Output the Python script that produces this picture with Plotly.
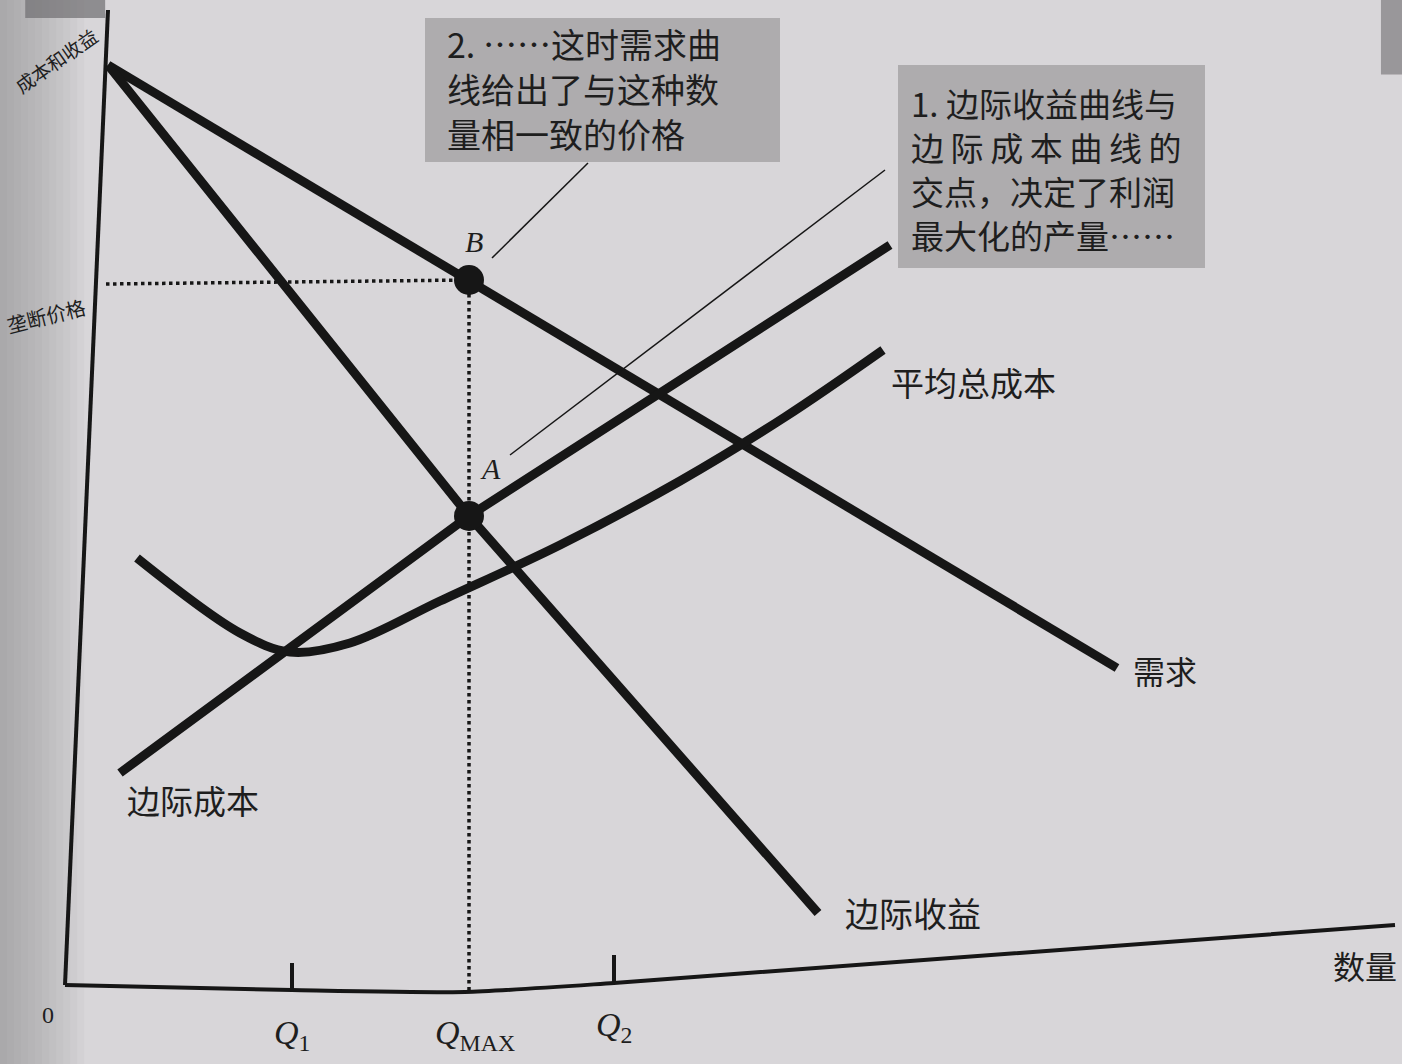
import plotly.graph_objects as go

# ---- economic curves (quantity, price) ----
demand_q = [4.3, 40.4, 105.2]
demand_p = [92.0, 70.5, 31.7]

mr_q = [4.3, 40.4, 75.3]
mr_p = [92.0, 46.9, 7.2]

mc_q = [5.5, 40.4, 82.5]
mc_p = [21.2, 46.9, 74.0]

atc_q = [7.2, 17.5, 22.5, 28.5, 37.5, 49.5, 61.5, 72.0, 81.8]
atc_p = [42.7, 35.2, 33.3, 34.2, 38.4, 44.0, 50.4, 56.8, 63.5]

# key quantities / prices
q1 = 22.7
q_max = 40.4
q2 = 54.9
p_monopoly = 70.5
p_a = 46.9

tick_labels = ["0", "<i>Q</i><sub>1</sub>", "<i>Q</i><sub>MAX</sub>", "<i>Q</i><sub>2</sub>"]

note_b = ["2. ……这时需求曲", "线给出了与这种数", "量相一致的价格"]
note_a = ["1. 边际收益曲线与", "边\u2009际\u2009成\u2009本\u2009曲\u2009线\u2009的",
          "交点，决定了利润", "最大化的产量……"]

# hand-drawn axes (the printed axes lean slightly)
yaxis_q = [0.0, 4.3]
yaxis_p = [0.0, 97.5]
xaxis_q = [0.0, 22.7, 40.0, 54.9, 133.0]
xaxis_p = [0.0, -0.5, -0.7, 0.2, 6.0]

INK = "#161616"
CJK = "Noto Sans CJK SC"
SERIF = "Liberation Serif"

fig = go.Figure()

def line(x, y, width=9, dash=None, shape="linear", color=INK, smoothing=1.0):
    ln = dict(color=color, width=width, dash=dash, shape=shape)
    if shape == "spline":
        ln["smoothing"] = smoothing
    fig.add_trace(go.Scatter(
        x=x, y=y, mode="lines", line=ln,
        hoverinfo="skip", showlegend=False, cliponaxis=False))

# axes
line(yaxis_q, yaxis_p, width=4)
line(xaxis_q, xaxis_p, width=4, shape="spline", smoothing=0.6)
line([q1, q1], [-0.5, 2.2], width=4)
line([q2, q2], [0.2, 3.0], width=4)

# dotted guides to B
line([4.1, q_max], [p_monopoly - 0.4, p_monopoly], width=3.5, dash="dot")
line([q_max, q_max], [p_monopoly, -0.7], width=3.5, dash="dot")

# curves
line(demand_q, demand_p)
line(mr_q, mr_p)
line(mc_q, mc_p)
line(atc_q, atc_p, shape="spline", smoothing=1.0)

# callout leader lines
line([52.3, 42.7], [82.2, 72.7], width=1.5)
line([82.0, 44.5], [81.5, 53.0], width=1.5)

# points A and B
fig.add_trace(go.Scatter(
    x=[q_max, q_max], y=[p_monopoly, p_a], mode="markers",
    marker=dict(color=INK, size=30), hoverinfo="skip",
    showlegend=False, cliponaxis=False))

shapes = []
# page shading toward the binding
n = 12
for i in range(n):
    shapes.append(dict(type="rect", xref="paper", yref="paper",
                       x0=0, x1=0.005 * (i + 1), y0=0, y1=1,
                       fillcolor="#8d8b8e", opacity=0.06, line_width=0, layer="below"))
shapes.append(dict(type="rect", xref="paper", yref="paper",
                   x0=0.985, x1=1.0, y0=0.93, y1=1.0,
                   fillcolor="#6f6d70", opacity=0.6, line_width=0, layer="below"))
shapes.append(dict(type="rect", xref="paper", yref="paper",
                   x0=0.018, x1=0.075, y0=0.983, y1=1.0,
                   fillcolor="#6f6d70", opacity=0.7, line_width=0, layer="below"))
# callout boxes
shapes.append(dict(type="rect", xref="x", yref="y", x0=36.0, x1=71.5, y0=82.3, y1=96.7,
                   fillcolor="#aeacae", line_width=0, layer="below"))
shapes.append(dict(type="rect", xref="x", yref="y", x0=83.3, x1=114.0, y0=71.7, y1=92.0,
                   fillcolor="#aeacae", line_width=0, layer="below"))

ann = []
def text(x, y, s, size=30, font=CJK, angle=0, xanchor="center", align="center", italic=False):
    ann.append(dict(x=x, y=y, xref="x", yref="y", text=s, showarrow=False,
                    textangle=angle, xanchor=xanchor, yanchor="middle", align=align,
                    font=dict(family=font, size=size, color="#1e1e1e",
                              style="italic" if italic else "normal")))

text(-1.0, 92.5, "成本和收益", size=19, angle=-35)
text(-1.9, 67.0, "垄断价格", size=20, angle=-14)
text(12.8, 18.5, "边际成本", size=33)
text(84.8, 7.3, "边际收益", size=34)
text(110.0, 31.5, "需求", size=32)
text(90.8, 60.3, "平均总成本", size=33)
text(130.0, 2.0, "数量", size=32)
text(42.5, 51.7, "A", size=30, font=SERIF, italic=True)
text(40.9, 74.4, "B", size=30, font=SERIF, italic=True)
text(-1.7, -3.0, tick_labels[0], size=24, font=SERIF)
text(q1, -5.0, tick_labels[1], size=34, font=SERIF)
text(q_max + 0.6, -5.0, tick_labels[2], size=34, font=SERIF)
text(q2, -4.2, tick_labels[3], size=34, font=SERIF)

for s, yy in zip(note_b, [94.2, 89.7, 85.2]):
    text(38.0, yy, s, size=34, xanchor="left", align="left")
for s, yy in zip(note_a, [88.2, 83.8, 79.4, 75.0]):
    text(84.4, yy, s, size=33, xanchor="left", align="left")

fig.update_layout(
    width=1402, height=1064,
    margin=dict(l=0, r=0, t=0, b=0),
    paper_bgcolor="#d8d6d9", plot_bgcolor="rgba(0,0,0,0)",
    xaxis=dict(range=[-6.5, 133.7], visible=False, fixedrange=True),
    yaxis=dict(range=[-7.9, 98.5], visible=False, fixedrange=True),
    shapes=shapes, annotations=ann,
)

fig.write_html("out.html")
